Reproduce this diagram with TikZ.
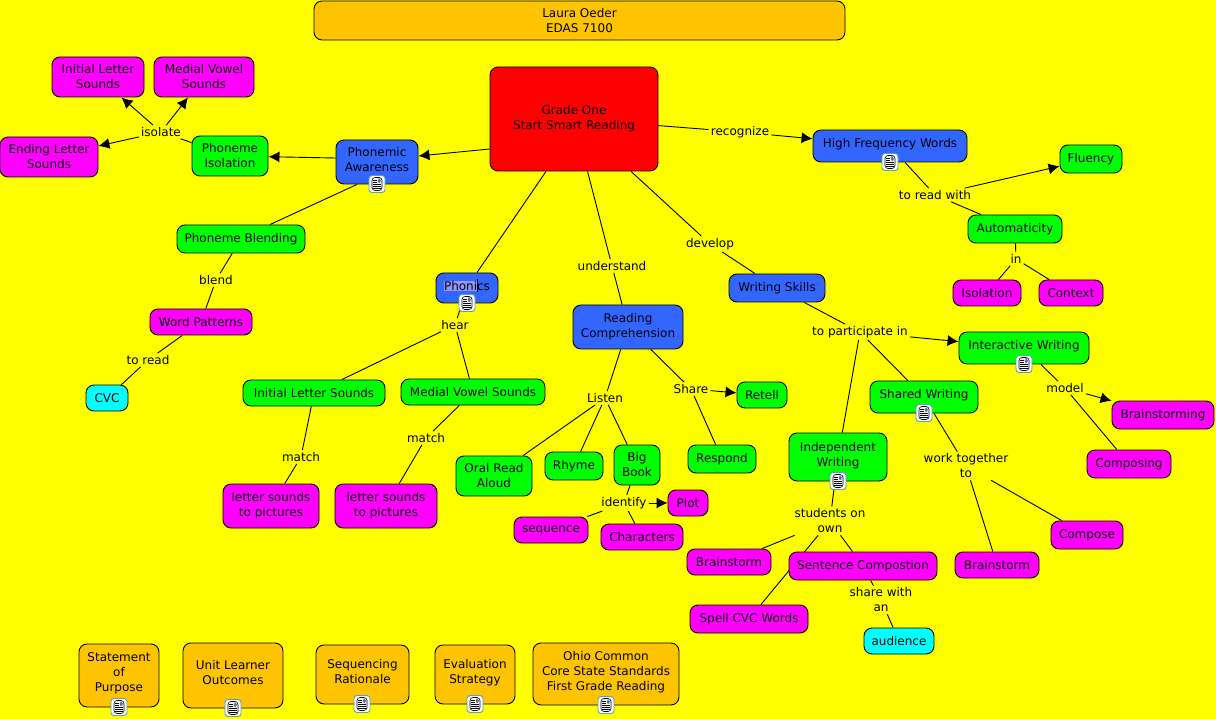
\documentclass[tikz,border=0pt]{standalone}
\usepackage{fontspec}
\setmainfont{DejaVu Sans}
\usetikzlibrary{arrows.meta,backgrounds}
\definecolor{mapyellow}{RGB}{255,255,0}
\definecolor{mapred}{RGB}{255,0,0}
\definecolor{mapblue}{RGB}{51,102,255}
\definecolor{mapgreen}{RGB}{0,255,0}
\definecolor{mapmagenta}{RGB}{255,0,255}
\definecolor{mapcyan}{RGB}{0,255,255}
\definecolor{maporange}{RGB}{255,196,0}
\definecolor{selbg}{RGB}{150,150,255}
\definecolor{iconrim}{RGB}{90,160,190}
\definecolor{iconpic}{RGB}{90,110,150}
\tikzset{>={Latex[length=11pt,width=11pt]}}
\tikzset{
  concept/.style 2 args = {shape=rectangle,draw,line width=0.9pt,rounded corners=8pt,inner sep=0pt,align=center,
    font=\fontsize{12}{15}\selectfont,minimum width=#1,minimum height=#2},
  redbox/.style 2 args = {concept={#1}{#2},fill=mapred},
  bluebox/.style 2 args = {concept={#1}{#2},fill=mapblue},
  greenbox/.style 2 args = {concept={#1}{#2},fill=mapgreen},
  magbox/.style 2 args = {concept={#1}{#2},fill=mapmagenta},
  cyanbox/.style 2 args = {concept={#1}{#2},fill=mapcyan},
  orgbox/.style 2 args = {concept={#1}{#2},fill=maporange},
  hasicon/.style = {text depth=6pt},
  linklabel/.style = {fill=mapyellow,inner sep=2pt,align=center,font=\fontsize{12}{15}\selectfont},
  docicon/.style = {shape=rectangle,draw=iconrim,fill=white,rounded corners=3pt,line width=0.9pt,
    minimum width=16pt,minimum height=17pt,inner sep=0pt,
    path picture={
      \draw[black,line width=0.6pt] ([shift={(-5,-6.5)}]path picture bounding box.center) rectangle ([shift={(5,6.5)}]path picture bounding box.center);
      \fill[iconpic] ([shift={(0.5,-5.5)}]path picture bounding box.center) rectangle ([shift={(4,-1)}]path picture bounding box.center);
      \foreach \k in {-4,-2} {
        \draw[black,line width=0.5pt] ([shift={(-4,\k)}]path picture bounding box.center) -- ([shift={(-0.5,\k)}]path picture bounding box.center);
      }
      \foreach \k in {0.5,2.5,4.5} {
        \draw[black,line width=0.5pt] ([shift={(-4,\k)}]path picture bounding box.center) -- ([shift={(4,\k)}]path picture bounding box.center);
      }
    }},
  link/.style = {line width=0.9pt}
}
\begin{document}
\begin{tikzpicture}[x=1pt,y=-1pt]
  \useasboundingbox (0,0) rectangle (1216,719);

  % concepts
  \node[orgbox={531}{39}] (title) at (579.5,20.5) {Laura Oeder\\EDAS 7100};
  \node[redbox={168}{104}] (grade) at (574,119) {Grade One\\Start Smart Reading};
  \node[bluebox={82}{44},hasicon] (phonemic) at (377,162) {Phonemic\\Awareness};
  \node[greenbox={76}{40}] (phoniso) at (230,156) {Phoneme\\Isolation};
  \node[magbox={92}{40}] (initsnd) at (98,77) {Initial Letter\\Sounds};
  \node[magbox={100}{40}] (medsnd) at (204,77) {Medial Vowel\\Sounds};
  \node[magbox={98}{40}] (endsnd) at (49,157) {Ending Letter\\Sounds};
  \node[greenbox={128}{28}] (blending) at (241,239) {Phoneme Blending};
  \node[magbox={102}{26}] (wordpat) at (201,322) {Word Patterns};
  \node[cyanbox={42}{26}] (cvc) at (107,398) {CVC};
  \node[bluebox={62}{30},hasicon] (phonics) at (467,288) {{\fboxsep=0pt\colorbox{selbg}{Phoni}}\rule[-2pt]{0.8pt}{13pt}\kern-0.8pt cs};
  \node[greenbox={142}{26}] (initls) at (314,393) {Initial Letter Sounds};
  \node[greenbox={144}{26}] (medvs) at (473,392) {Medial Vowel Sounds};
  \node[magbox={96}{44}] (lettera) at (271,506) {letter sounds\\to pictures};
  \node[magbox={102}{44}] (letterb) at (386,506) {letter sounds\\to pictures};
  \node[bluebox={110}{44}] (reading) at (628,327) {Reading\\Comprehension};
  \node[greenbox={50}{26}] (retell) at (762,395) {Retell};
  \node[greenbox={68}{28}] (respond) at (722,459) {Respond};
  \node[greenbox={76}{40}] (oral) at (494,476) {Oral Read\\Aloud};
  \node[greenbox={58}{28}] (rhyme) at (574,466) {Rhyme};
  \node[greenbox={46}{40}] (bigbook) at (637,465) {Big\\Book};
  \node[magbox={40}{26}] (plot) at (688,503) {Plot};
  \node[magbox={74}{26}] (sequence) at (551,530) {sequence};
  \node[magbox={82}{26}] (characters) at (642,537) {Characters};
  \node[bluebox={96}{28}] (writing) at (777,288) {Writing Skills};
  \node[greenbox={130}{32},hasicon] (interactive) at (1024,348) {Interactive Writing};
  \node[magbox={102}{28}] (brainstorming) at (1163,415) {Brainstorming};
  \node[magbox={84}{28}] (composing) at (1129,464) {Composing};
  \node[greenbox={108}{32},hasicon] (shared) at (924,397) {Shared Writing};
  \node[magbox={72}{28}] (compose) at (1087,535) {Compose};
  \node[magbox={84}{26}] (brainb) at (997,565) {Brainstorm};
  \node[greenbox={98}{48},hasicon] (independent) at (838,457) {Independent\\Writing};
  \node[magbox={84}{26}] (braina) at (729,562) {Brainstorm};
  \node[magbox={148}{28}] (sentence) at (863,566) {Sentence Compostion};
  \node[magbox={118}{28}] (spell) at (749,619) {Spell CVC Words};
  \node[cyanbox={70}{26}] (audience) at (899,641) {audience};
  \node[bluebox={154}{32},hasicon] (high) at (890,146) {High Frequency Words};
  \node[greenbox={62}{28}] (fluency) at (1091,159) {Fluency};
  \node[greenbox={94}{28}] (autom) at (1015,229) {Automaticity};
  \node[magbox={68}{26}] (isolation) at (987,293) {Isolation};
  \node[magbox={64}{26}] (context) at (1071,293) {Context};
  \node[orgbox={80}{63},hasicon] (statement) at (119,675.5) {Statement\\of\\Purpose};
  \node[orgbox={100}{65},hasicon] (unit) at (233,675.5) {Unit Learner\\Outcomes};
  \node[orgbox={93}{59},hasicon] (seqrat) at (362.5,674.5) {Sequencing\\Rationale};
  \node[orgbox={80}{59},hasicon] (evalstr) at (475,674.5) {Evaluation\\Strategy};
  \node[orgbox={146}{62},hasicon] (ohio) at (606,674) {Ohio Common\\Core State Standards\\First Grade Reading};

  % linking phrases
  \node[linklabel] (isolate) at (161,132) {isolate};
  \node[linklabel] (blend) at (216,280) {blend};
  \node[linklabel] (toread) at (148,360) {to read};
  \node[linklabel] (hear) at (455,325) {hear};
  \node[linklabel] (matcha) at (301,457) {match};
  \node[linklabel] (matchb) at (426,438) {match};
  \node[linklabel] (understand) at (612,266) {understand};
  \node[linklabel] (listen) at (605,398) {Listen};
  \node[linklabel] (share) at (691,389) {Share};
  \node[linklabel] (identify) at (624,503) {identify};
  \node[linklabel] (develop) at (710,244) {develop};
  \node[linklabel] (participate) at (860,332) {to participate in};
  \node[linklabel] (model) at (1065,388) {model};
  \node[linklabel] (together) at (966,466) {work together\\to};
  \node[linklabel] (students) at (830,521) {students on\\own};
  \node[linklabel] (sharewith) at (881,600) {share with\\an};
  \node[linklabel] (recognize) at (740,132) {recognize};
  \node[linklabel] (readwith) at (935,195) {to read with};
  \node[linklabel] (inlink) at (1016,259) {in};

  % connectors
  \begin{scope}[link]
    \draw[->] ([shift={(0,30)}]grade.west) -- ([shift={(0,-6)}]phonemic.east);
    \draw[->] ([shift={(0,-4)}]phonemic.west) -- (phoniso);
    \draw (phoniso) -- (isolate);
    \foreach \t in {initsnd,medsnd,endsnd} {
      \draw[->] (isolate) -- (\t);
    }
    \draw ([shift={(-20,0)}]phonemic.south) -- ([shift={(29,0)}]blending.north);
    \draw (blending) -- (blend) -- (wordpat) -- (toread) -- (cvc);
    \draw ([shift={(-28,0)}]grade.south) -- ([shift={(10,0)}]phonics.north);
    \draw (phonics) -- (hear);
    \draw (hear) -- (initls) -- (matcha) -- (lettera);
    \draw (hear) -- (medvs) -- (matchb) -- (letterb);
    \draw (grade) -- (understand) -- (reading) -- (listen);
    \foreach \t in {oral,rhyme,bigbook} {
      \draw (listen) -- (\t);
    }
    \draw (reading) -- (share) -- (respond);
    \draw[->] (share) -- (retell);
    \draw (bigbook) -- (identify);
    \draw[->] (identify) -- (plot);
    \draw (identify) -- (sequence);
    \draw (identify) -- (characters);
    \draw (grade) -- (develop) -- (writing) -- (participate);
    \draw[->] (participate) -- (interactive);
    \draw (participate) -- (shared);
    \draw (participate) -- (independent);
    \draw (interactive) -- (model) -- (composing);
    \draw[->] (model) -- (brainstorming);
    \draw (shared) -- (together) -- (compose);
    \draw (together) -- (brainb);
    \draw (independent) -- (students) -- (braina);
    \draw (students) -- (sentence);
    \draw (sentence) -- (sharewith) -- (audience);
    \draw (grade) -- (recognize);
    \draw[->] (recognize) -- (high);
    \draw (high) -- (readwith) -- (autom);
    \draw[->] (readwith) -- (fluency);
    \draw (autom) -- (inlink) -- (isolation);
    \draw (inlink) -- (context);
  \end{scope}

  % behind the boxes
  \begin{scope}[on background layer]
    \fill[mapyellow] (0,0) rectangle (1216,719);
    \draw[link] (students) -- (spell);
  \end{scope}

  % resource icons
  \foreach \n/\x/\y in {a/377/184,b/467/303,c/890/162,d/1024/364,e/924/413,f/838/481,
                        g/119/707,h/233/708,i/362/704,j/475/704,k/606/705} {
    \node[docicon] (icon\n) at (\x,\y) {};
  }
\end{tikzpicture}
\end{document}
